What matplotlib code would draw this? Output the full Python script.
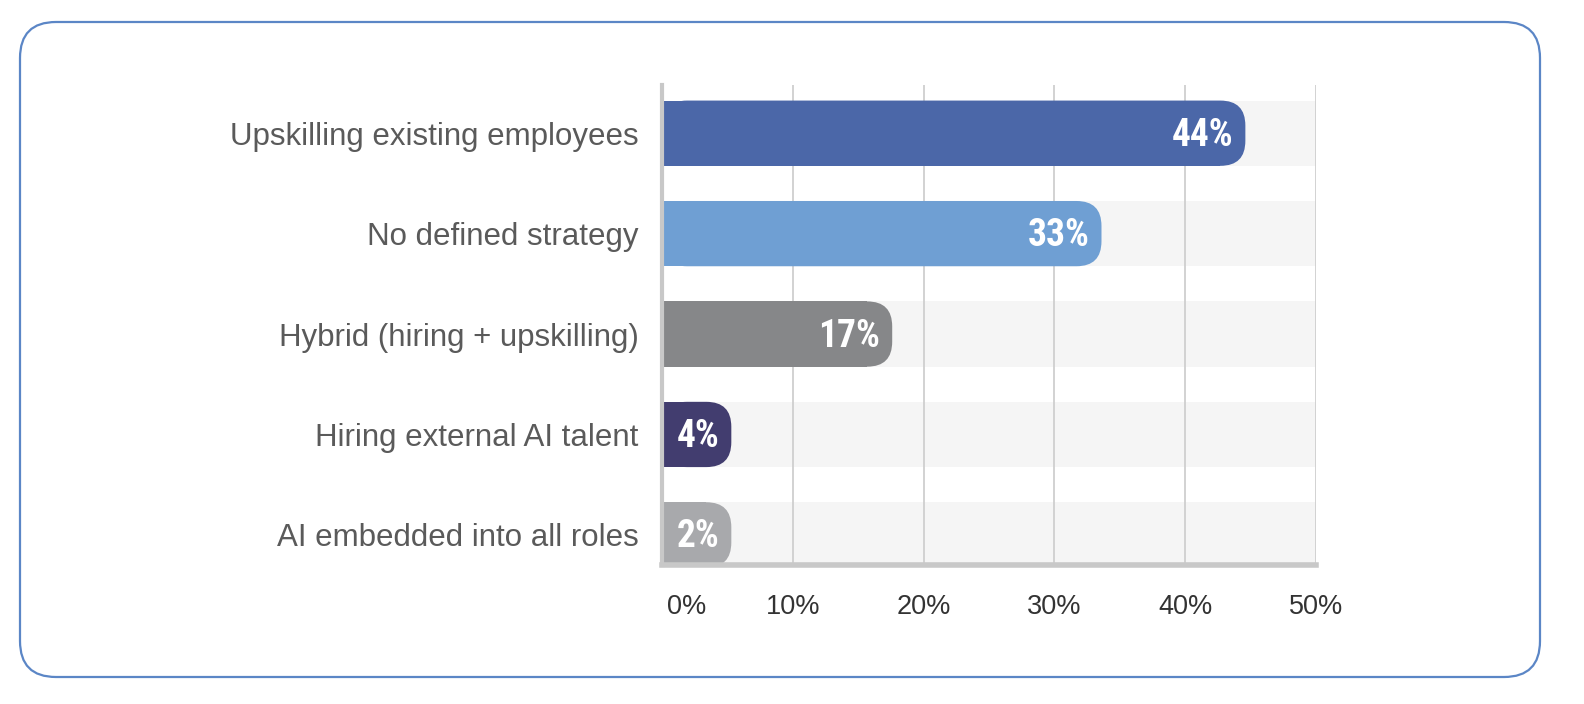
import matplotlib
matplotlib.use("Agg")
import matplotlib.pyplot as plt
from matplotlib.patches import FancyBboxPatch, Rectangle
from matplotlib.transforms import ScaledTranslation

categories = ["Upskilling existing employees", "No defined strategy",
              "Hybrid (hiring + upskilling)", "Hiring external AI talent",
              "AI embedded into all roles"]
values = [44, 33, 17, 4, 2]
value_labels = ["44%", "33%", "17%", "4%", "2%"]
colors = ["#4B67A8", "#6F9FD3", "#868789", "#423D6F", "#A8A9AC"]
xticks = [0, 10, 20, 30, 40, 50]
xtick_labels = ["0%", "10%", "20%", "30%", "40%", "50%"]

W, H = 1584, 704
fig = plt.figure(figsize=(W / 100, H / 100), dpi=100)

# background axes in pixel units for the rounded border
bg = fig.add_axes([0, 0, 1, 1])
bg.set_xlim(0, W)
bg.set_ylim(H, 0)
bg.axis("off")
bg.add_patch(FancyBboxPatch((20, 22), 1520, 655,
                            boxstyle="round,pad=0,rounding_size=36",
                            fill=False, edgecolor="#5B86C6", linewidth=1.6))

ax_l, ax_r = 662, 1316
ax_t, ax_b = 85, 565
ax = fig.add_axes([ax_l / W, (H - ax_b) / H, (ax_r - ax_l) / W, (ax_b - ax_t) / H])
ax.set_xlim(0, 50)
ax.set_ylim(4.3, -0.48)

bar_h = 0.65
px_per_x = (ax_r - ax_l) / 50
px_per_y = (ax_b - ax_t) / (4.3 + 0.48)
aspect = px_per_x / px_per_y
r_px = 25
r_x = r_px / px_per_x

# background bands
ax.barh(range(len(values)), [50] * len(values), height=bar_h, color="#F5F5F5", zorder=0)

# gridlines
for t in xticks[1:]:
    ax.axvline(t, color="#CFCFCF", linewidth=1.3, zorder=1)

label_font = ["Roboto Condensed", "Fira Sans Condensed", "DejaVu Sans"]
for i, (v, c, lab) in enumerate(zip(values, colors, value_labels)):
    end = max(v + 0.6, 5.3)
    y0 = i - bar_h / 2
    ax.add_patch(FancyBboxPatch((0, y0), end, bar_h,
                                boxstyle=f"round,pad=0,rounding_size={r_x}",
                                mutation_aspect=aspect,
                                facecolor=c, edgecolor="none", zorder=2))
    ax.add_patch(Rectangle((0, y0), end - r_x, bar_h, facecolor=c,
                           edgecolor="none", zorder=2))
    ax.text(end - 0.9, i + 0.02, lab, ha="right", va="center", color="white",
            fontsize=27, fontweight="bold", family=label_font, zorder=3)

ax.set_yticks(range(len(categories)))
ax.set_yticklabels(categories, fontsize=22.5, color="#5A5A5A", family="Liberation Sans")
ax.set_xticks(xticks)
ax.set_xticklabels(xtick_labels, fontsize=19.5, color="#333333", family="Liberation Sans")
ax.tick_params(axis="both", length=0)
ax.tick_params(axis="y", pad=17)
ax.tick_params(axis="x", pad=21)
first = ax.get_xticklabels()[0]
first.set_horizontalalignment("left")
first.set_transform(first.get_transform() + ScaledTranslation(5 / 100, 0, fig.dpi_scale_trans))

for s in ["top", "right"]:
    ax.spines[s].set_visible(False)
ax.spines["left"].set_color("#C8C8C8")
ax.spines["left"].set_linewidth(3)
ax.spines["bottom"].set_color("#C8C8C8")
ax.spines["bottom"].set_linewidth(4)
ax.set_facecolor("none")

fig.savefig("out.png", dpi=100)
